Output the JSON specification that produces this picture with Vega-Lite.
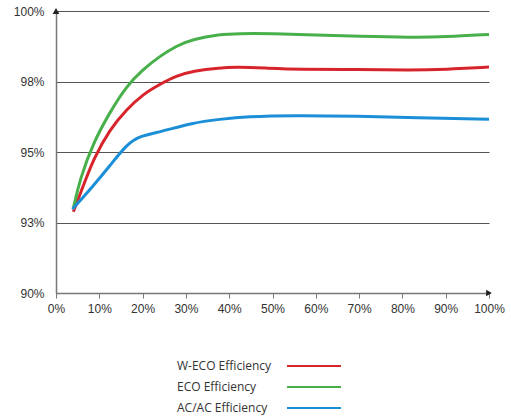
{
  "$schema": "https://vega.github.io/schema/vega-lite/v6.json",
  "width": 433,
  "height": 282,
  "background": "white",
  "datasets": {
    "eff": [
      {"load": 4, "eff": 92.88, "series": "W-ECO Efficiency"},
      {"load": 6.3, "eff": 93.8, "series": "W-ECO Efficiency"},
      {"load": 8.6, "eff": 94.74, "series": "W-ECO Efficiency"},
      {"load": 12.4, "eff": 95.8, "series": "W-ECO Efficiency"},
      {"load": 16.3, "eff": 96.51, "series": "W-ECO Efficiency"},
      {"load": 20.1, "eff": 97.05, "series": "W-ECO Efficiency"},
      {"load": 24, "eff": 97.4, "series": "W-ECO Efficiency"},
      {"load": 27.8, "eff": 97.7, "series": "W-ECO Efficiency"},
      {"load": 31.6, "eff": 97.87, "series": "W-ECO Efficiency"},
      {"load": 37.8, "eff": 97.99, "series": "W-ECO Efficiency"},
      {"load": 42, "eff": 98.01, "series": "W-ECO Efficiency"},
      {"load": 48, "eff": 97.98, "series": "W-ECO Efficiency"},
      {"load": 56, "eff": 97.93, "series": "W-ECO Efficiency"},
      {"load": 70, "eff": 97.93, "series": "W-ECO Efficiency"},
      {"load": 82, "eff": 97.9, "series": "W-ECO Efficiency"},
      {"load": 90, "eff": 97.93, "series": "W-ECO Efficiency"},
      {"load": 100, "eff": 98.01, "series": "W-ECO Efficiency"},
      {"load": 4, "eff": 93.0, "series": "ECO Efficiency"},
      {"load": 5.5, "eff": 94.03, "series": "ECO Efficiency"},
      {"load": 8.6, "eff": 95.33, "series": "ECO Efficiency"},
      {"load": 12.4, "eff": 96.4, "series": "ECO Efficiency"},
      {"load": 16.3, "eff": 97.34, "series": "ECO Efficiency"},
      {"load": 20.1, "eff": 97.93, "series": "ECO Efficiency"},
      {"load": 24, "eff": 98.4, "series": "ECO Efficiency"},
      {"load": 27.8, "eff": 98.76, "series": "ECO Efficiency"},
      {"load": 31.6, "eff": 99.0, "series": "ECO Efficiency"},
      {"load": 37.8, "eff": 99.17, "series": "ECO Efficiency"},
      {"load": 42, "eff": 99.2, "series": "ECO Efficiency"},
      {"load": 50, "eff": 99.2, "series": "ECO Efficiency"},
      {"load": 60, "eff": 99.15, "series": "ECO Efficiency"},
      {"load": 70, "eff": 99.1, "series": "ECO Efficiency"},
      {"load": 82, "eff": 99.06, "series": "ECO Efficiency"},
      {"load": 90, "eff": 99.08, "series": "ECO Efficiency"},
      {"load": 100, "eff": 99.17, "series": "ECO Efficiency"},
      {"load": 3.8, "eff": 92.97, "series": "AC/AC Efficiency"},
      {"load": 8.6, "eff": 93.8, "series": "AC/AC Efficiency"},
      {"load": 12.4, "eff": 94.5, "series": "AC/AC Efficiency"},
      {"load": 16.3, "eff": 95.27, "series": "AC/AC Efficiency"},
      {"load": 19.4, "eff": 95.57, "series": "AC/AC Efficiency"},
      {"load": 24, "eff": 95.71, "series": "AC/AC Efficiency"},
      {"load": 31.6, "eff": 96.04, "series": "AC/AC Efficiency"},
      {"load": 37.8, "eff": 96.16, "series": "AC/AC Efficiency"},
      {"load": 44, "eff": 96.26, "series": "AC/AC Efficiency"},
      {"load": 55, "eff": 96.3, "series": "AC/AC Efficiency"},
      {"load": 70, "eff": 96.27, "series": "AC/AC Efficiency"},
      {"load": 83, "eff": 96.22, "series": "AC/AC Efficiency"},
      {"load": 100, "eff": 96.16, "series": "AC/AC Efficiency"}
    ],
    "arrows": [
      {"load": 0, "eff": 100, "dir": "up"},
      {"load": 100, "eff": 90, "dir": "right"}
    ]
  },
  "config": {
    "view": {"stroke": null},
    "axis": {"labelFont": "Liberation Sans", "labelFontSize": 12, "labelColor": "#333333", "labelFlush": false}
  },
  "layer": [
    {
      "data": {"name": "eff"},
      "mark": {"type": "line", "interpolate": "basis", "strokeWidth": 3},
      "encoding": {
        "x": {
          "field": "load", "type": "quantitative",
          "scale": {"domain": [0, 100], "nice": false},
          "axis": {
            "values": [0, 10, 20, 30, 40, 50, 60, 70, 80, 90, 100],
            "labelExpr": "datum.value + '%'",
            "title": null, "grid": false,
            "domainColor": "#777777", "domainWidth": 1.5,
            "tickColor": "#777777", "tickSize": 5, "tickWidth": 1,
            "labelPadding": 5
          }
        },
        "y": {
          "field": "eff", "type": "quantitative",
          "scale": {"domain": [90, 100], "nice": false, "zero": false},
          "axis": {
            "values": [90, 92.5, 95, 97.5, 100],
            "labelExpr": "round(datum.value) + '%'",
            "title": null, "ticks": false, "labelPadding": 12,
            "minExtent": 51, "maxExtent": 51,
            "grid": true, "gridColor": "#555555", "gridWidth": 1.2,
            "domainColor": "#777777", "domainWidth": 1.5
          }
        },
        "color": {
          "field": "series", "type": "nominal",
          "scale": {
            "domain": ["W-ECO Efficiency", "ECO Efficiency", "AC/AC Efficiency"],
            "range": ["#d7242b", "#48b04a", "#1a8ed6"]
          },
          "legend": {
            "title": null,
            "orient": "none",
            "legendX": 250,
            "legendY": 347,
            "direction": "vertical",
            "symbolType": "M-4,0H4",
            "symbolSize": 182,
            "symbolStrokeWidth": 2,
            "labelFont": "Open Sans",
            "labelFontSize": 12,
            "labelColor": "#333333",
            "labelAlign": "left",
            "labelOffset": -145,
            "rowPadding": 7
          }
        }
      }
    },
    {
      "data": {"name": "arrows"},
      "mark": {"type": "point", "filled": true, "size": 45, "color": "#222222", "opacity": 1},
      "encoding": {
        "x": {"field": "load", "type": "quantitative"},
        "y": {"field": "eff", "type": "quantitative"},
        "shape": {
          "field": "dir", "type": "nominal",
          "scale": {"domain": ["up", "right"], "range": ["triangle-up", "triangle-right"]},
          "legend": null
        }
      }
    }
  ]
}
